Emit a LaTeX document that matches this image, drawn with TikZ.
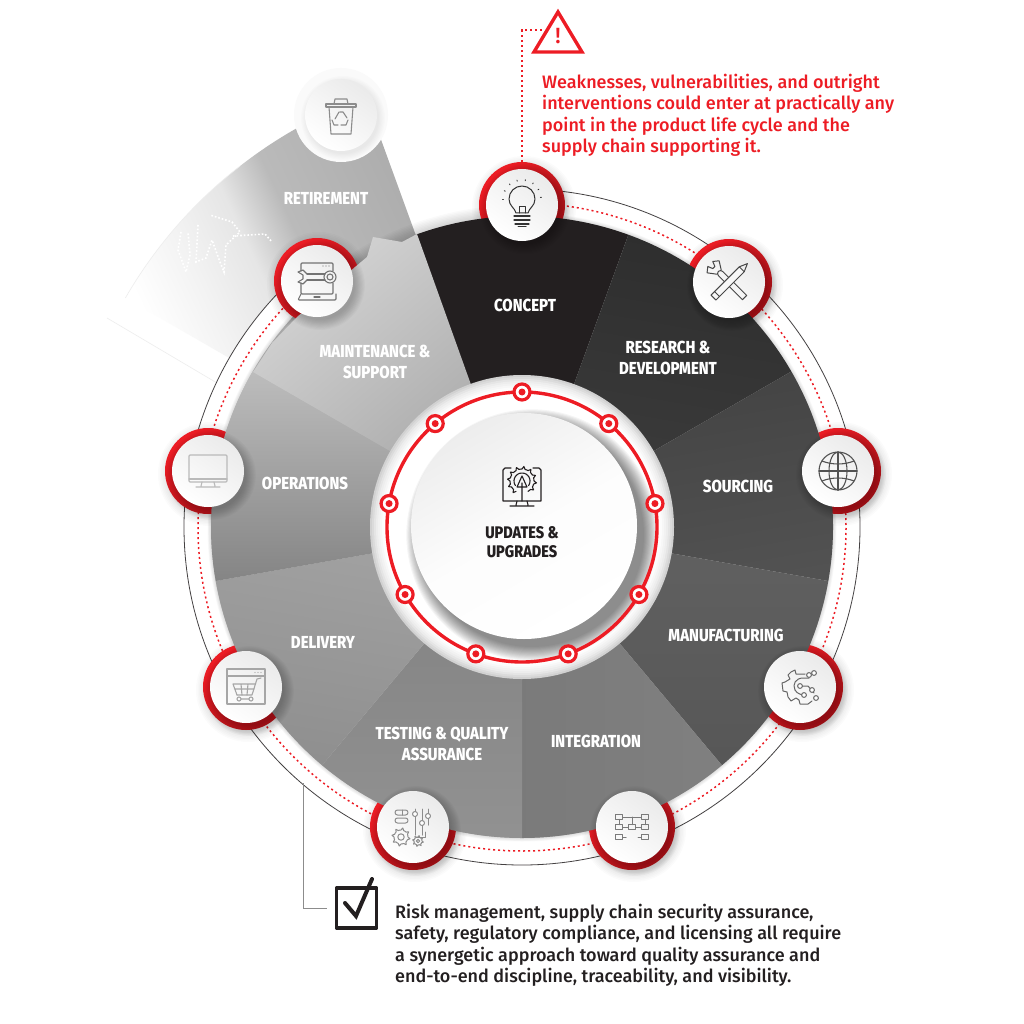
\documentclass[tikz,border=0pt]{standalone}
\usepackage{fontspec}
\usetikzlibrary{calc}
\setmainfont{Fira Sans}
\newfontfamily\headf[FakeStretch=0.86]{Fira Sans ExtraBold}
\newfontfamily\bodyf{Fira Sans Medium}
\definecolor{rd}{HTML}{ED1C24}
\definecolor{ink}{HTML}{231F20}
\pgfdeclarehorizontalshading{fanshade}{100bp}{color(0bp)=(white);color(30bp)=(white);color(38bp)=(black!5);color(45bp)=(black!10);color(51bp)=(black!27);color(68bp)=(black!33);color(80bp)=(black!68);color(100bp)=(black!70)}
\tikzset{
  x=1pt,y=-1pt,
  headlabel/.style={text=white,font=\headf\fontsize{17.4}{20.6}\selectfont,align=center,inner sep=0pt},
  iconcircle/.style={circle,minimum size=72pt,inner sep=0pt,left color=black!8,right color=white,shading angle=-35},
  icn/.style={line width=1pt,line join=round,line cap=round},
  redring/.style={top color=rd,middle color=rd,bottom color=rd!78!black,shading angle=45},
  huboff/.style={circle,minimum size=16pt,inner sep=0pt,draw=rd,line width=3.2pt,fill=white},
  hubdot/.style={circle,minimum size=7pt,inner sep=0pt,fill=rd},
}
\newcommand{\softshadow}[3]{% x y r
  \foreach \k in {0,...,9}{\fill[black,opacity=.022] (#1+3,#2+4) circle[radius={#3+\k*1.1}];}}
\newcommand{\gearpath}[3]{% r tooth teeth
  plot[domain=0:360,samples={#3*4+1},variable=\t] (\t:{#1+#2*(sin(#3*\t)>0)}) -- cycle}
\begin{document}
\begin{tikzpicture}
\useasboundingbox (0,0) rectangle (1024,1024);
\fill[white] (0,0) rectangle (1024,1024);
% torn away sector
\shade[shading=fanshade,shading angle=25] (522,527) -- ++(210:458) arc[start angle=210,end angle=250,radius=458] -- cycle;
\draw[black!7,line width=.6] (217,383) -- (107,318) (522,527) ++(210:458) arc[start angle=210,end angle=232,radius=458];
\foreach \p in {{(181,232) -- (178,250) -- (186,272) -- (190,255) -- (188,232)},{(198,225) -- (196,262) -- (206,258) -- (212,240) -- (220,262) -- (224,272) -- (226,245) -- (240,232) -- (232,222) -- (210,215)},{(233,236) -- (265,234) -- (272,242)}}
  \draw[white,line width=1.6,dotted] \p;
% halo, band and ring
\foreach \k in {0,...,8}{\fill[black,opacity=.02] (522,527) circle[radius={311+\k*1.4}];}
\fill[white] (522,527) ++(-90:338) arc[start angle=-90,end angle=230,radius=338] -- ++(50:27) arc[start angle=230,end angle=-90,radius=311] -- cycle;
\foreach \k in {0,...,5}{\draw[black,opacity=.025,line width=\k*1.3+.5] (522,527) ++(-90:311) arc[start angle=-90,end angle=230,radius=311];}
\draw[ink!85,line width=.8] (522,527) ++(-90:338) arc[start angle=-90,end angle=230,radius=338];
\draw[rd,line width=1.5,dash pattern=on 2pt off 3pt] (522,527) ++(-90:324) arc[start angle=-90,end angle=230,radius=324];
% red rims (behind the disc)
\foreach \x/\y in {522/205,729/282,838/471,800/687,632/827,413/827,246/687,208/471,317/281}{
  \foreach \k in {0,...,6}{\fill[black,opacity=.014] (\x+2,\y+3) circle[radius={43+\k*1.5}];}
  \shade[redring] (\x,\y) circle[radius=43];}
\fill[black!2] (341,115) circle[radius=47];
% sectors
\begin{scope}[shift={(522,527)}]
\fill[ink] (0,0) -- (250:311) arc[start angle=250,end angle=290,radius=311] -- cycle;
\shade[top color=black!82,bottom color=black!76,shading angle=-10] (0,0) -- (290:311) arc[start angle=290,end angle=330,radius=311] -- cycle;
\shade[top color=black!74,bottom color=black!68,shading angle=10] (0,0) -- (330:311) arc[start angle=330,end angle=370,radius=311] -- cycle;
\shade[top color=black!62,bottom color=black!66,shading angle=0] (0,0) -- (10:311) arc[start angle=10,end angle=50,radius=311] -- cycle;
\shade[left color=black!52,right color=black!50] (0,0) -- (50:311) arc[start angle=50,end angle=90,radius=311] -- cycle;
\shade[top color=black!50,bottom color=black!43] (0,0) -- (90:311) arc[start angle=90,end angle=130,radius=311] -- cycle;
\shade[top color=black!36,bottom color=black!44,shading angle=-10] (0,0) -- (130:311) arc[start angle=130,end angle=170,radius=311] -- cycle;
\shade[top color=black!26,middle color=black!30,bottom color=black!48] (0,0) -- (170:311) arc[start angle=170,end angle=210,radius=311] -- cycle;
\end{scope}
% maintenance sector, its top edge torn
\shade[top color=black!17,middle color=black!20,bottom color=black!36,shading angle=40]
  (522,527) -- (253,372) -- (272,343) -- (297,317) -- (355,267) -- (367,257) -- (373,237) -- (402,242) -- (417,234) -- cycle;
% shadows of the round tiles
\softshadow{522}{205}{35}\softshadow{729}{282}{35}\softshadow{838}{471}{35}\softshadow{800}{687}{35}\softshadow{632}{827}{35}\softshadow{413}{827}{35}\softshadow{246}{687}{35}\softshadow{208}{471}{35}\softshadow{317}{281}{35}
\foreach \k in {0,...,5}{\fill[black,opacity=.012] (343,118) circle[radius={36+\k*1.2}];}
% hub
\foreach \r/\m in {152/18,150/14,148/10,146/7,144/5,142/3,140/1,138/0}{\fill[black!\m] (522,527) circle[radius=\r];}
\foreach \k in {0,...,13}{\fill[black,opacity=.04] (532,535) circle[radius={112+\k*1.05}];}
\draw[rd,line width=3.4] (522,527) circle[radius=135];
\foreach \a in {-90,-50,-10,30,70,110,150,190,230}{
  \node[huboff] at ($(522,527)+(\a:135)$) {};
  \node[hubdot] at ($(522,527)+(\a:135)$) {};}
\node[circle,minimum size=226pt,inner sep=0pt,top color=black!7,bottom color=white,middle color=black!1,shading angle=30] (hubcore) at (524,526) {};
% tiles
\node[iconcircle] (concept) at (522,205) {};
\node[iconcircle] (rnd) at (729,282) {};
\node[iconcircle] (sourcing) at (838,471) {};
\node[iconcircle] (manufacturing) at (800,687) {};
\node[iconcircle] (integration) at (632,827) {};
\node[iconcircle] (testing) at (413,827) {};
\node[iconcircle] (delivery) at (246,687) {};
\node[iconcircle] (operations) at (208,471) {};
\node[iconcircle] (maintenance) at (317,281) {};
\node[iconcircle] (retirement) at (341,115) {};
% icons: bulb
\begin{scope}[shift={(522,205)},icn,draw=black!80]
\draw (-6,8) .. controls (-7,3) and (-13,1) .. (-13,-6) arc[start angle=180,end angle=360,radius=13] .. controls (13,1) and (7,3) .. (6,8) -- cycle;
\draw (-3,8) -- (-3,2) -- (3,2) -- (3,8);
\draw[line width=1.3] (-8,11) -- (8,11) (-8,15) -- (8,15) (-7,19) -- (7,19);
\draw (-4,22) -- (4,22);
\foreach \a in {180,205,...,360}{\draw[line width=.9] ($(0,-6)+(\a:18.5)$) -- ($(0,-6)+(\a:19.5)$);}
\end{scope}
% tools
\begin{scope}[shift={(729,282)},icn,draw=black!72]
\begin{scope}[rotate=-45]
\draw (22,-3) -- (22,3) -- (-12,3) arc[start angle=90,end angle=270,radius=3] -- cycle;
\draw (-14,-3) -- (-22,-8) -- (-26,-3) -- (-21,-1) -- (-21,2) -- (-26,4) -- (-22,9) -- (-14,3);
\end{scope}
\begin{scope}[rotate=45]
\fill[black!3] (-22,-3.5) rectangle (18,3.5);
\draw (-22,-3.5) -- (-22,3.5) -- (18,3.5) -- (26,0) -- (18,-3.5) -- cycle (-17,-3.5) -- (-17,3.5) (18,-3.5)--(18,3.5);
\end{scope}
\end{scope}
% globe
\begin{scope}[shift={(838,471)},icn,draw=black!68,line width=1.1pt]
\draw (0,0) circle[radius=19];
\draw (0,0) ellipse[x radius=9,y radius=19];
\draw (0,-19) -- (0,19) (-19,0) -- (19,0);
\draw (-16,-10) .. controls (-6,-6) and (6,-6) .. (16,-10);
\draw (-16,10) .. controls (-6,6) and (6,6) .. (16,10);
\end{scope}
% manufacturing gear
\begin{scope}[shift={(800,687)},icn,draw=black!60]
\draw (5,-13) -- (-4,-13) -- (-5,-17) -- (-9,-15) -- (-12,-12) -- (-10,-8) -- (-15,-5) -- (-18,-4) -- (-17,4) -- (-13,5) -- (-12,10) -- (-9,14) -- (-4,11) -- (-1,13) -- (0,17) -- (8,17) -- (12,14);
\draw (-5,3) .. controls (-8,-3) and (-4,-9) .. (3,-9) -- (9,-9);
\draw (-5,3) .. controls (-3,7) and (2,8) .. (5,8);
\draw (-2,-1) -- (8,-1) -- (14,6);
\foreach \x/\y in {9/-12,14/-14,0/-1,4/8,12/3,16/11}{\fill[white] (\x,\y) circle[radius=2.4];\draw (\x,\y) circle[radius=2.4];}
\end{scope}
% integration flow chart
\begin{scope}[shift={(632,827)},icn,draw=black!52]
\foreach \x/\y in {-13/-10,-13/0,-13/10,0/0,13/-10,13/0,13/10}{\draw (\x-3.6,\y-2.4) rectangle (\x+3.6,\y+2.4);}
\draw (-9.4,-10) -- (9.4,-10) (-9.4,0) -- (-3.6,0) (3.6,0) -- (9.4,0) (-9.4,10) -- (-6,10) (6,10) -- (9.4,10) (0,-10) -- (0,-2.4) (13,-7.6) -- (13,-2.4) (-13,-7.6) -- (-13,-2.4);
\end{scope}
% testing sliders
\begin{scope}[shift={(413,827)},icn,draw=black!45]
\draw[rounded corners=2.5] (-18,-17) rectangle (-5,-12) (-18,-9) rectangle (-5,-4);
\draw (-11,-17) -- (-11,-12);
\draw (2,-18) -- (2,8) (12,5) -- (12,10) -- (4,10);
\fill[white] (2,-13) circle[radius=2.5];\draw (2,-13) circle[radius=2.5];
\draw (9,-18) -- (9,8);\fill[white] (9,-4) circle[radius=2.5];\draw (9,-4) circle[radius=2.5];
\draw (15,-18) -- (15,-2);\fill[white] (15,-11) circle[radius=2.5];\draw (15,-11) circle[radius=2.5];
\draw[shift={(-12,10)}] \gearpath{7}{2.2}{8};
\draw (-12,10) circle[radius=3.2];
\draw[shift={(5,14)}] \gearpath{4}{1.5}{8};
\draw (5,14) circle[radius=1.7];
\end{scope}
% delivery window
\begin{scope}[shift={(246,687)},icn,draw=black!35,line width=1.1pt]
\draw (-19,-18) rectangle (19,17);
\draw (-19,-11) -- (19,-11);
\foreach \x in {9,12,15}{\fill[black!35] (\x,-14.5) circle[radius=.7];}
\draw (15,-9) -- (11,-8) -- (6,8) -- (-9,8);
\draw (-13,-3) -- (9,-3) (-11.5,2) -- (8,2) (-9,8) -- (-13,-3) (-5,-3) -- (-4,8) (2,-3) -- (1,8);
\draw (-7,12) circle[radius=2] (5,12) circle[radius=2] (-5,12) -- (3,12);
\end{scope}
% operations monitor
\begin{scope}[shift={(208,471)},icn,draw=black!27,line width=1.1pt]
\draw[rounded corners=1] (-19,-16) rectangle (19,11);
\draw (-19,8) -- (19,8);
\draw (-6,11) -- (-7,15) (6,11) -- (7,15) (-12,16) -- (12,16);
\end{scope}
% maintenance laptop
\begin{scope}[shift={(317,281)},icn,draw=black!55,line width=1.1pt]
\draw[rounded corners=1] (-16,-10) -- (-16,-18) -- (16,-18) -- (16,-10) (-16,2) -- (-16,13) -- (16,13) -- (16,2);
\draw[rounded corners=1] (-16,13) -- (-19,19) -- (19,19) -- (19,13);
\draw (-3,16) -- (3,16);
\foreach \x in {6,9,12}{\fill[black!55] (\x,-15) circle[radius=.6];}
\draw (-10,-7) -- (8,-7) (-10,-1) -- (8,-1);
\draw (-10,-7) -- (-14,-11) -- (-19,-9) -- (-14,-6) -- (-14,-2) -- (-19,1) -- (-14,3) -- (-10,-1);
\draw (13,-4) circle[radius=6] (13,-4) circle[radius=3];
\end{scope}
% retirement bin
\begin{scope}[shift={(341,115)},icn,draw=black!45,line width=1.1pt]
\draw (-15,-11) -- (15,-11) -- (15,-8) -- (-15,-8) -- cycle;
\draw (-7,-11) -- (-6,-16) -- (6,-16) -- (7,-11);
\draw (-12,-8) -- (-10,19) -- (10,19) -- (12,-8);
\draw (-2,-3) -- (-6,4) (-1,-3) -- (2,-3) -- (6,3) (7,5) -- (5,10) -- (0,10) (-3,10) -- (-7,10) -- (-9,5);
\end{scope}
% centre icon
\begin{scope}[shift={(522,487)},icn,draw=ink,line width=1.1pt]
\draw (-11,-19) -- (-17,-19) -- (-19,-17) -- (-19,14) -- (19,14) -- (19,-17) -- (17,-19) -- (11,-19);
\draw (-5,14) -- (-6,18) (5,14) -- (6,18) (-12,19) -- (12,19);
\draw[shift={(0,-6)}] plot[domain=-240:60,samples=41,variable=\t] (\t:{12+2.6*(sin(12*\t)>0)});
\draw[shift={(0,-6)}] plot[domain=-215:35,samples=20,variable=\t] (\t:8);
\draw (0,14) -- (0,-4) (-5,0) -- (0,-11) -- (5,0) -- cycle;
\end{scope}
% sector labels
\node[headlabel] (lconcept) at (525,305) {CONCEPT};
\node[headlabel] (lrnd) at (668,358) {RESEARCH \&\\DEVELOPMENT};
\node[headlabel] (lsourcing) at (738,486) {SOURCING};
\node[headlabel] (lmanuf) at (726,635) {MANUFACTURING};
\node[headlabel] (lintegr) at (596,741) {INTEGRATION};
\node[headlabel] (ltesting) at (442,744) {TESTING \& QUALITY\\ASSURANCE};
\node[headlabel] (ldelivery) at (323,642) {DELIVERY};
\node[headlabel] (loperations) at (305,483) {OPERATIONS};
\node[headlabel] (lmaint) at (375,362) {MAINTENANCE \&\\SUPPORT};
\node[headlabel] (lretire) at (326,198) {RETIREMENT};
\node[headlabel,text=ink,font=\headf\fontsize{16.8}{18.6}\selectfont] (lupdates) at (522,542) {UPDATES \&\\UPGRADES};
% warning callout
\coordinate (warnleft) at (543,30);
\coordinate (warncorner) at (522,30);
\draw[rd,line width=1.5,dash pattern=on 2pt off 3pt] (concept.north) ++(0,-7) -- (warncorner) -- (warnleft);
\draw[rd,line width=3.4,line join=miter] (558,12) -- (582,52) -- (534,52) -- cycle;
\node[inner sep=0pt,text=rd,font=\bodyf\fontsize{22}{22}\selectfont] (warnmark) at (558,36) {!};
\node[anchor=north west,inner sep=0pt,text=rd,align=left,font=\bodyf\fontsize{18}{21.4}\selectfont] (warntext) at (542,74) {Weaknesses, vulnerabilities, and outright\\interventions could enter at practically any\\point in the product life cycle and the\\supply chain supporting it.};
% assurance callout
\coordinate (ringtap) at (303,783);
\coordinate (boxtap) at (327,908);
\draw[black!45,line width=.9] (ringtap) -- (303,908) -- (boxtap);
\draw[ink,line width=3.4,line join=round] (336.5,888) rectangle (376.5,928);
\draw[ink,line width=4,line join=miter,line cap=round] (345,903) -- (356,916) -- (372,879);
\node[anchor=north west,inner sep=0pt,text=ink,align=left,font=\bodyf\fontsize{18}{21.3}\selectfont] (assurtext) at (395,904) {Risk management, supply chain security assurance,\\safety, regulatory compliance, and licensing all require\\a synergetic approach toward quality assurance and\\end-to-end discipline, traceability, and visibility.};
\end{tikzpicture}
\end{document}
